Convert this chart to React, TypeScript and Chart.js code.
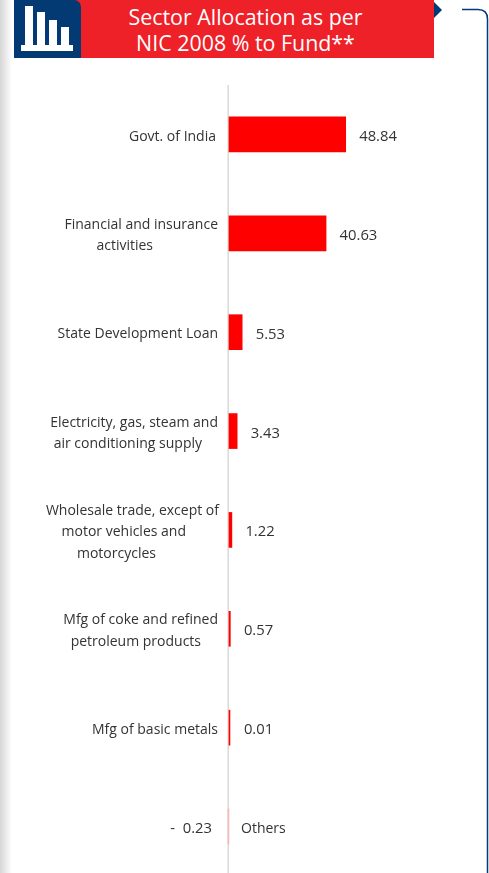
import React, { useEffect, useRef } from "react";
import { Chart, registerables } from "chart.js";

Chart.register(...registerables);

const categories: string[][] = [
  ["Govt. of India"],
  ["Financial and insurance", "activities"],
  ["State Development Loan"],
  ["Electricity, gas, steam and", "air conditioning supply"],
  ["Wholesale trade, except of", "motor vehicles and", "motorcycles"],
  ["Mfg of coke and refined", "petroleum products"],
  ["Mfg of basic metals"],
  ["Others"],
];
const values: number[] = [48.84, 40.63, 5.53, 3.43, 1.22, 0.57, 0.01, -0.23];
const valueLabels: string[] = ["48.84", "40.63", "5.53", "3.43", "1.22", "0.57", "0.01", "-  0.23"];
const titleLines: string[] = ["Sector Allocation as per", "NIC 2008 % to Fund**"];
const barColors: string[] = ["#ff0000", "#ff0000", "#ff0000", "#ff0000", "#ff0000", "#ff0000", "#ff0000", "#f6b9b9"];

const labelRightEdges: number[][] = [[216], [218, 153], [218], [218, 202], [219, 186, 156], [218, 201], [218], [285]];
const FONT = '14px "Open Sans"';
const VALUE_FONT = '14.8px "Open Sans"';
const TEXT = "#333333";

const annotate = {
  id: "annotate",
  beforeDatasetsDraw(chart: any) {
    const { ctx, scales, chartArea } = chart;
    const zero = scales.x.getPixelForValue(0);
    ctx.save();
    ctx.strokeStyle = "#d9d9d9";
    ctx.lineWidth = 1.5;
    ctx.beginPath();
    ctx.moveTo(zero - 0.75, chartArea.top);
    ctx.lineTo(zero - 0.75, chartArea.bottom);
    ctx.stroke();
    ctx.restore();
  },
  afterDatasetsDraw(chart: any) {
    const { ctx, scales } = chart;
    ctx.save();
    ctx.fillStyle = TEXT;
    ctx.textBaseline = "middle";
    categories.forEach((lines, i) => {
      const cy = scales.y.getPixelForValue(i);
      const v = values[i];
      const end = scales.x.getPixelForValue(Math.max(v, 0.6));
      ctx.font = VALUE_FONT;
      ctx.textAlign = v < 0 ? "right" : "left";
      ctx.fillText(valueLabels[i], v < 0 ? 212 : end + 13.5, cy + 2.3);
      ctx.font = FONT;
      ctx.textAlign = v < 0 ? "left" : "right";
      lines.forEach((line, k) => {
        const y = cy + 2.3 + (k - (lines.length - 1) / 2) * 21.3;
        if (v < 0) ctx.fillText(line, 241, y);
        else ctx.fillText(line, labelRightEdges[i][k], y);
      });
    });
    ctx.restore();
  },
};

export default function App() {
  const ref = useRef<HTMLCanvasElement>(null);
  useEffect(() => {
    const chart = new Chart(ref.current!, {
      type: "bar",
      data: {
        labels: categories.map((c) => c.join(" ")),
        datasets: [
          {
            data: values,
            backgroundColor: barColors,
            barThickness: 35,
            minBarLength: 1,
          },
        ],
      },
      options: {
        indexAxis: "y",
        animation: false,
        responsive: false,
        layout: { padding: { top: 85, left: 0, right: 0, bottom: 0 } },
        plugins: { legend: { display: false }, tooltip: { enabled: false } },
        scales: {
          x: { display: false, min: -95.8, max: 108.8 },
          y: { display: false },
        },
      },
      plugins: [annotate],
    } as any);
    return () => chart.destroy();
  }, []);

  return (
    <div
      style={{
        position: "fixed",
        left: 0,
        top: 0,
        width: 489,
        height: 873,
        overflow: "hidden",
        background: "#fff",
      }}
    >
      <div
        style={{
          position: "absolute",
          left: 0,
          top: 0,
          width: 12,
          height: 873,
          background: "linear-gradient(to right, #d6d6d6, #ffffff)",
        }}
      />
      <canvas ref={ref} width={489} height={876} style={{ position: "absolute", left: 0, top: 0, display: "block" }} />
      <div style={{ position: "absolute", left: 14, top: 0, width: 420, height: 58, background: "#ee2028" }} />
      <div
        style={{
          position: "absolute",
          left: 14,
          top: 0,
          width: 67,
          height: 58,
          background: "#033a73",
          borderTopRightRadius: 7,
        }}
      />
      <svg width={489} height={60} style={{ position: "absolute", left: 0, top: 0 }}>
        <rect x={21} y={45} width={52} height={6} fill="#fff" />
        <rect x={25} y={6} width={8} height={40} fill="#fff" />
        <rect x={37} y={12} width={8} height={34} fill="#fff" />
        <rect x={49} y={20} width={8} height={26} fill="#fff" />
        <rect x={61} y={27} width={8} height={19} fill="#fff" />
        <polygon points="434,2 442,10 434,18" fill="#033a73" />
      </svg>
      <svg width={489} height={873} style={{ position: "absolute", left: 0, top: 0 }}>
        <path d="M462 9.5 H478 Q487.5 9.5 487.5 19 V873" fill="none" stroke="#033a73" strokeWidth={1.5} />
      </svg>
      <div
        style={{
          position: "absolute",
          left: 81,
          top: 4,
          width: 329,
          textAlign: "center",
          color: "#fff",
          font: '21.4px/25.5px "Open Sans"',
        }}
      >
        {titleLines.map((l) => (
          <div key={l}>{l}</div>
        ))}
      </div>
    </div>
  );
}
